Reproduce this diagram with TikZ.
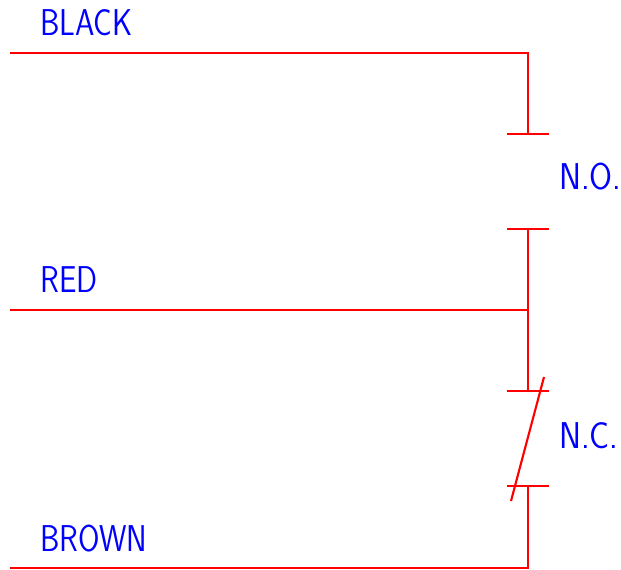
\documentclass[tikz,border=0pt]{standalone}
\usepackage{fontspec}
\usetikzlibrary{positioning}
\definecolor{wirered}{RGB}{255,0,0}
\definecolor{labelblue}{RGB}{0,0,255}
\tikzset{
  wire/.style={draw=wirered,line width=1.6pt},
  wirelabel/.style={text=labelblue,inner sep=0pt,anchor=base west,font=\sffamily\fontsize{28}{28}\selectfont\addfontfeature{Kerning=Off},xscale=0.83},
  contactlabel/.style={wirelabel,xscale=1.07}
}
\begin{document}
\begin{tikzpicture}[x=0.75pt,y=-0.75pt]
   \useasboundingbox (0,0) rectangle (621,570);
   % wires
   \coordinate (black_in) at (10,53);
   \coordinate (black_c) at (528,53);
   \coordinate (no_top) at (528,134);
   \coordinate (no_bot) at (528,229);
   \coordinate (red_in) at (10,310);
   \coordinate (red_c) at (528,310);
   \coordinate (nc_top) at (528,391);
   \coordinate (nc_bot) at (528,486);
   \coordinate (brown_in) at (10,568);
   \coordinate (brown_c) at (528,568);
   \coordinate (slash_a) at (544,377);
   \coordinate (slash_b) at (511,501);
   \draw[wire] (black_in) -- (black_c) -- (no_top);
   \draw[wire] (no_bot) -- (nc_top);
   \draw[wire] (red_in) -- (red_c);
   \draw[wire] (brown_in) -- (brown_c) -- (nc_bot);
   % contact bars
   \foreach \c in {no_top,no_bot,nc_top,nc_bot}
     \draw[wire] ([xshift=-16pt]\c) -- ([xshift=16pt]\c);
   \draw[wire] (slash_a) -- (slash_b);
   % labels
   \node[wirelabel] (lbl_black) at (40,36) {BLACK};
   \node[wirelabel] (lbl_red) at (40,293) {RED};
   \node[wirelabel] (lbl_brown) at (40,551) {BROWN};
   \node[contactlabel] (lbl_no) at (559,190) {N.O.};
   \node[contactlabel] (lbl_nc) at (559,448) {N.C.};
\end{tikzpicture}
\end{document}
